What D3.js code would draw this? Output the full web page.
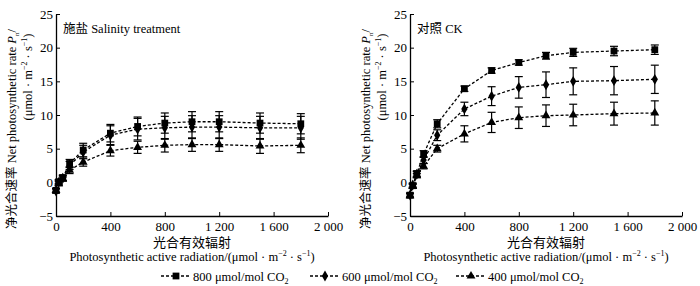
<!DOCTYPE html>
<html>
<head>
<meta charset="utf-8">
<script src="https://cdn.jsdelivr.net/npm/d3@7"></script>
<style>
  body { margin: 0; background: #fff; }
  svg text { font-family: "Liberation Serif", "Noto Sans CJK SC", serif; fill: #000; }
</style>
</head>
<body>
<div id="chart"></div>
<script>
// light levels (x)
const parLevels = [0, 20, 50, 100, 200, 400, 600, 800, 1000, 1200, 1500, 1800];

// salinity treatment
const salt800 = [-1.2, 0.1, 0.7, 2.8, 4.8, 7.3, 8.3, 8.8, 9.0, 9.0, 8.8, 8.7];
const salt800Err = [0.3, 0.3, 0.4, 0.6, 1.0, 1.3, 1.4, 1.5, 1.5, 1.5, 1.5, 1.5];
const salt600 = [-1.3, 0.0, 0.6, 2.5, 4.5, 7.0, 7.9, 8.1, 8.2, 8.2, 8.1, 8.1];
const salt600Err = [0.3, 0.3, 0.4, 0.6, 1.0, 1.4, 1.6, 1.7, 1.7, 1.7, 1.7, 1.7];
const salt400 = [-1.2, -0.2, 0.5, 1.8, 3.0, 4.7, 5.2, 5.5, 5.6, 5.6, 5.4, 5.5];
const salt400Err = [0.3, 0.3, 0.3, 0.5, 0.6, 0.8, 0.9, 1.0, 1.0, 1.0, 1.1, 1.1];

// control CK
const ck800 = [-1.9, -0.5, 1.3, 4.2, 8.7, 13.9, 16.6, 17.8, 18.8, 19.3, 19.5, 19.7];
const ck800Err = [0.3, 0.3, 0.4, 0.5, 0.6, 0.4, 0.4, 0.4, 0.5, 0.6, 0.7, 0.7];
const ck600 = [-1.9, -0.4, 1.2, 3.3, 7.0, 10.9, 12.8, 14.1, 14.5, 15.0, 15.1, 15.3];
const ck600Err = [0.3, 0.3, 0.4, 0.5, 0.8, 1.0, 1.4, 1.6, 1.9, 2.0, 2.1, 2.1];
const ck400 = [-2.0, -0.6, 1.0, 2.4, 5.0, 7.2, 8.9, 9.6, 9.9, 10.0, 10.2, 10.3];
const ck400Err = [0.3, 0.3, 0.3, 0.4, 0.5, 1.2, 1.5, 1.6, 1.6, 1.6, 1.7, 1.8];

const xTicks = [0, 400, 800, 1200, 1600, 2000];
const yTicks = [-5, 0, 5, 10, 15, 20, 25];
const seriesNames = ["800", "600", "400"];
const panelTitles = ["施盐 Salinity treatment", "对照 CK"];

const W = 700, H = 286;
const svg = d3.select("#chart").append("svg")
    .attr("width", W)
    .attr("height", H);

const symbols = {
    "800": d3.symbol().type(d3.symbolSquare).size(46),
    "600": d3.symbol().type(d3.symbolDiamond).size(34),
    "400": d3.symbol().type(d3.symbolTriangle).size(34)
};

function tickFmt(d) {
    return d >= 1000 ? d3.format(",")(d).replace(",", " ") : String(d);
}

function drawPanel(left, title, series) {
    const x = d3.scaleLinear().domain([0, 2000]).range([left, left + 272]);
    const y = d3.scaleLinear().domain([-5, 25]).range([216, 14]);
    const g = svg.append("g");

    // axes
    g.append("g")
        .attr("transform", `translate(0,${y(-5)})`)
        .call(d3.axisBottom(x).tickValues(xTicks).tickSizeInner(-4).tickSizeOuter(0).tickFormat(tickFmt))
        .call(a => a.selectAll("text").attr("font-size", 13).attr("dy", "0.95em"))
        .call(a => a.select(".domain").attr("stroke-width", 1.3));

    g.append("g")
        .attr("transform", `translate(${x(0)},0)`)
        .call(d3.axisLeft(y).tickValues(yTicks).tickSizeInner(-4).tickSizeOuter(0)
            .tickFormat(d => d < 0 ? "−" + Math.abs(d) : d))
        .call(a => a.selectAll("text").attr("font-size", 13).attr("x", -3))
        .call(a => a.select(".domain").attr("stroke-width", 1.3));

    g.append("text")
        .attr("x", x(0) + 7)
        .attr("y", 33)
        .attr("font-size", 12.5)
        .text(title);

    // axis titles
    g.append("text")
        .attr("x", x(1000))
        .attr("y", 247)
        .attr("text-anchor", "middle")
        .attr("font-size", 13)
        .text("光合有效辐射");

    const xl = g.append("text")
        .attr("x", x(1000))
        .attr("y", 261)
        .attr("text-anchor", "middle")
        .attr("font-size", 12.5);
    xl.append("tspan").text("Photosynthetic active radiation/(μmol · m");
    xl.append("tspan").attr("font-size", 8).attr("dy", -5).text("−2");
    xl.append("tspan").attr("dy", 5).text(" · s");
    xl.append("tspan").attr("font-size", 8).attr("dy", -5).text("−1");
    xl.append("tspan").attr("dy", 5).text(")");

    const yl = g.append("text")
        .attr("transform", `translate(${left - 40},129) rotate(-90)`)
        .attr("text-anchor", "middle")
        .attr("font-size", 12.5);
    yl.append("tspan").text("净光合速率 Net photosynthetic rate ");
    yl.append("tspan").attr("font-style", "italic").text("P");
    yl.append("tspan").attr("font-size", 7).attr("dy", 3).text("n");
    yl.append("tspan").attr("dy", -3).text("/");

    const yl2 = g.append("text")
        .attr("transform", `translate(${left - 24},77) rotate(-90)`)
        .attr("text-anchor", "middle")
        .attr("font-size", 12.5);
    yl2.append("tspan").text("(μmol · m");
    yl2.append("tspan").attr("font-size", 8).attr("dy", -5).text("−2");
    yl2.append("tspan").attr("dy", 5).text(" · s");
    yl2.append("tspan").attr("font-size", 8).attr("dy", -5).text("−1");
    yl2.append("tspan").attr("dy", 5).text(")");

    const line = d3.line()
        .x(d => x(d.px))
        .y(d => y(d.v));

    series.forEach(s => {
        const pts = parLevels.map((px, i) => ({ px: px, v: s.values[i], e: s.errs[i] }));

        g.append("path")
            .datum(pts)
            .attr("fill", "none")
            .attr("stroke", "#000")
            .attr("stroke-width", 1.3)
            .attr("stroke-dasharray", "3,2")
            .attr("d", line);

        const eb = g.append("g").selectAll("g").data(pts).join("g")
            .attr("stroke", "#000")
            .attr("stroke-width", 1.2);
        eb.append("line")
            .attr("x1", d => x(d.px)).attr("x2", d => x(d.px))
            .attr("y1", d => y(d.v - d.e)).attr("y2", d => y(d.v + d.e));
        eb.append("line")
            .attr("x1", d => x(d.px) - 4).attr("x2", d => x(d.px) + 4)
            .attr("y1", d => y(d.v + d.e)).attr("y2", d => y(d.v + d.e));
        eb.append("line")
            .attr("x1", d => x(d.px) - 4).attr("x2", d => x(d.px) + 4)
            .attr("y1", d => y(d.v - d.e)).attr("y2", d => y(d.v - d.e));

        g.append("g").selectAll("path").data(pts).join("path")
            .attr("transform", d => `translate(${x(d.px)},${y(d.v)})`)
            .attr("d", symbols[s.name]())
            .attr("fill", "#000");
    });
}

drawPanel(56, panelTitles[0], [
    { name: "800", values: salt800, errs: salt800Err },
    { name: "600", values: salt600, errs: salt600Err },
    { name: "400", values: salt400, errs: salt400Err }
]);
drawPanel(410, panelTitles[1], [
    { name: "800", values: ck800, errs: ck800Err },
    { name: "600", values: ck600, errs: ck600Err },
    { name: "400", values: ck400, errs: ck400Err }
]);

// legend
const legendX = [161, 310, 456];
const legend = svg.append("g");
seriesNames.forEach((name, i) => {
    const lg = legend.append("g").attr("transform", `translate(${legendX[i]},276)`);
    lg.append("line")
        .attr("x1", 0).attr("x2", 28)
        .attr("stroke", "#000")
        .attr("stroke-width", 1.3)
        .attr("stroke-dasharray", "3,2");
    lg.append("path")
        .attr("transform", "translate(15,0)")
        .attr("d", symbols[name]())
        .attr("fill", "#000");
    const t = lg.append("text")
        .attr("x", 32)
        .attr("y", 4.5)
        .attr("font-size", 12.5);
    t.append("tspan").text(name + " μmol/mol CO");
    t.append("tspan").attr("font-size", 8).attr("dy", 3).text("2");
});
</script>
</body>
</html>
